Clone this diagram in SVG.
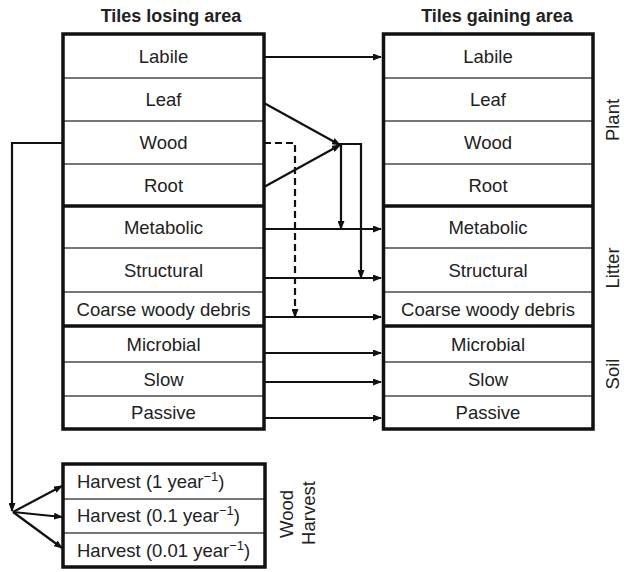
<svg xmlns="http://www.w3.org/2000/svg" width="624" height="572" viewBox="0 0 624 572">
<defs>
<marker id="ah" markerUnits="userSpaceOnUse" markerWidth="9" markerHeight="7" refX="8" refY="3.5" orient="auto">
<path d="M0,0 L9,3.5 L0,7 z" fill="#111"/>
</marker>
<style>
text{font-family:"Liberation Sans",Arial,sans-serif;font-size:18.5px;fill:#222}
.t{font-weight:bold;text-anchor:middle;font-size:18px}
.c{text-anchor:middle}
.cell{fill:#fff;stroke:#777;stroke-width:2}
.frame{fill:none;stroke:#111;stroke-width:3.5}
.div{stroke:#111;stroke-width:3.5}
.con{fill:none;stroke:#111;stroke-width:2.2}
.arr{marker-end:url(#ah)}
.dash{stroke-dasharray:7,4}
.sup{font-size:13px}
</style>
</defs>
<rect width="624" height="572" fill="#fff"/>
<text class="t" x="171" y="22">Tiles losing area</text>
<text class="t" x="497" y="22">Tiles gaining area</text>

<g id="losing">
<g id="l-labile"><rect class="cell" x="63" y="34" width="201" height="44"/><text class="c" x="163.5" y="63">Labile</text></g>
<g id="l-leaf"><rect class="cell" x="63" y="78" width="201" height="43"/><text class="c" x="163.5" y="106">Leaf</text></g>
<g id="l-wood"><rect class="cell" x="63" y="121" width="201" height="43"/><text class="c" x="163.5" y="149">Wood</text></g>
<g id="l-root"><rect class="cell" x="63" y="164" width="201" height="42"/><text class="c" x="163.5" y="192">Root</text></g>
<g id="l-metabolic"><rect class="cell" x="63" y="206" width="201" height="42"/><text class="c" x="163.5" y="234">Metabolic</text></g>
<g id="l-structural"><rect class="cell" x="63" y="248" width="201" height="44"/><text class="c" x="163.5" y="277">Structural</text></g>
<g id="l-cwd"><rect class="cell" x="63" y="292" width="201" height="34"/><text class="c" x="163.5" y="316">Coarse woody debris</text></g>
<g id="l-microbial"><rect class="cell" x="63" y="326" width="201" height="36"/><text class="c" x="163.5" y="351">Microbial</text></g>
<g id="l-slow"><rect class="cell" x="63" y="362" width="201" height="34"/><text class="c" x="163.5" y="386">Slow</text></g>
<g id="l-passive"><rect class="cell" x="63" y="396" width="201" height="33"/><text class="c" x="163.5" y="419">Passive</text></g>
<rect class="frame" x="63" y="34" width="201" height="395"/>
<line class="div" x1="63" y1="206" x2="264" y2="206"/>
<line class="div" x1="63" y1="326" x2="264" y2="326"/>
</g>

<g id="gaining">
<g id="g-labile"><rect class="cell" x="383.5" y="34" width="209.5" height="44"/><text class="c" x="488" y="63">Labile</text></g>
<g id="g-leaf"><rect class="cell" x="383.5" y="78" width="209.5" height="43"/><text class="c" x="488" y="106">Leaf</text></g>
<g id="g-wood"><rect class="cell" x="383.5" y="121" width="209.5" height="43"/><text class="c" x="488" y="149">Wood</text></g>
<g id="g-root"><rect class="cell" x="383.5" y="164" width="209.5" height="42"/><text class="c" x="488" y="192">Root</text></g>
<g id="g-metabolic"><rect class="cell" x="383.5" y="206" width="209.5" height="42"/><text class="c" x="488" y="234">Metabolic</text></g>
<g id="g-structural"><rect class="cell" x="383.5" y="248" width="209.5" height="44"/><text class="c" x="488" y="277">Structural</text></g>
<g id="g-cwd"><rect class="cell" x="383.5" y="292" width="209.5" height="34"/><text class="c" x="488" y="316">Coarse woody debris</text></g>
<g id="g-microbial"><rect class="cell" x="383.5" y="326" width="209.5" height="36"/><text class="c" x="488" y="351">Microbial</text></g>
<g id="g-slow"><rect class="cell" x="383.5" y="362" width="209.5" height="34"/><text class="c" x="488" y="386">Slow</text></g>
<g id="g-passive"><rect class="cell" x="383.5" y="396" width="209.5" height="33"/><text class="c" x="488" y="419">Passive</text></g>
<rect class="frame" x="383.5" y="34" width="209.5" height="395"/>
<line class="div" x1="383.5" y1="206" x2="593" y2="206"/>
<line class="div" x1="383.5" y1="326" x2="593" y2="326"/>
</g>

<g id="harvest">
<g id="h-1"><rect class="cell" x="63" y="464" width="202" height="35"/><text x="77" y="488">Harvest (1 year<tspan class="sup" dy="-7">−1</tspan><tspan dy="7">)</tspan></text></g>
<g id="h-01"><rect class="cell" x="63" y="499" width="202" height="34"/><text x="77" y="522">Harvest (0.1 year<tspan class="sup" dy="-7">−1</tspan><tspan dy="7">)</tspan></text></g>
<g id="h-001"><rect class="cell" x="63" y="533" width="202" height="34"/><text x="77" y="557">Harvest (0.01 year<tspan class="sup" dy="-7">−1</tspan><tspan dy="7">)</tspan></text></g>
<rect class="frame" x="63" y="464" width="202" height="103"/>
</g>

<g id="labels">
<text class="c" transform="translate(619,120) rotate(-90)">Plant</text>
<text class="c" transform="translate(619,268) rotate(-90)">Litter</text>
<text class="c" transform="translate(619,374) rotate(-90)">Soil</text>
<text class="c" transform="translate(293,514) rotate(-90)">Wood</text>
<text class="c" transform="translate(315,513) rotate(-90)">Harvest</text>
</g>

<g id="connectors">
<path class="con arr" d="M264,57 H381"/>
<path class="con arr" d="M264,103 L340,145"/>
<path class="con arr" d="M264,187 L340,145"/>
<path class="con arr" d="M339,144 H361 V278"/>
<path class="con arr" d="M341,145 V229"/>
<path class="con arr" d="M264,229 H381"/>
<path class="con arr" d="M264,278 H381"/>
<path class="con arr" d="M264,317 H381"/>
<path class="con arr" d="M264,353 H381"/>
<path class="con arr" d="M264,382 H381"/>
<path class="con arr" d="M264,418 H381"/>
<path class="con arr dash" d="M264,143 H295 V317"/>
<path class="con arr" d="M63,143 H12 V511"/>
<path class="con arr" d="M13,512 L62,486"/>
<path class="con arr" d="M13,512 L62,517"/>
<path class="con arr" d="M13,512 L62,548"/>
</g>
</svg>
